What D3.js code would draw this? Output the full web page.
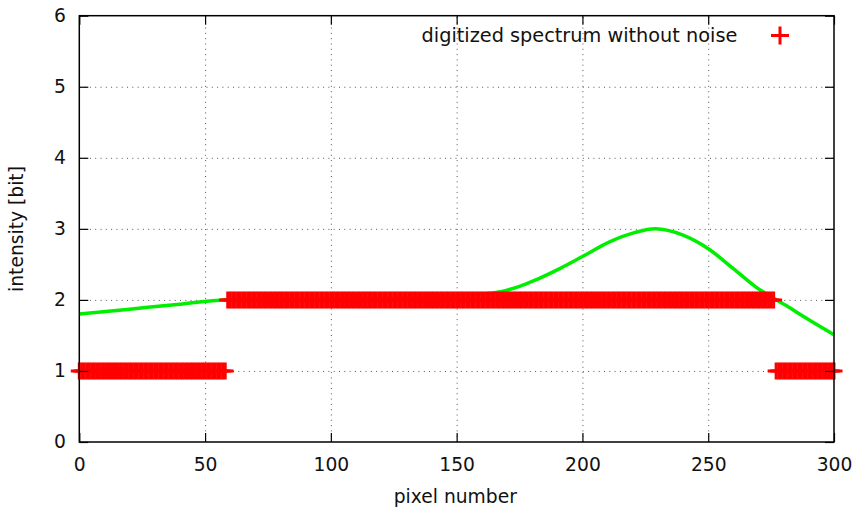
<!DOCTYPE html>
<html>
<head>
<meta charset="utf-8">
<script src="https://cdn.jsdelivr.net/npm/d3@7"></script>
<style>
  body { margin: 0; background: #fff; }
  svg { display: block; font-family: "DejaVu Sans", sans-serif; }
  .grid line { stroke: #555; stroke-width: 1; stroke-dasharray: 1,4.3; }
  .grid .domain { display: none; }
  .axis .domain { display: none; }
  .axis line { stroke: #000; stroke-width: 1.2; }
  .axis text { font-size: 18.7px; fill: #111; font-family: "DejaVu Sans", sans-serif; }
</style>
</head>
<body>
<script>
// tick values
var xTicks = [0, 50, 100, 150, 200, 250, 300];
var yTicks = [0, 1, 2, 3, 4, 5, 6];

var digitized = [
  1,1,1,1,1,1,1,1,1,1, // 0
  1,1,1,1,1,1,1,1,1,1, // 10
  1,1,1,1,1,1,1,1,1,1, // 20
  1,1,1,1,1,1,1,1,1,1, // 30
  1,1,1,1,1,1,1,1,1,1, // 40
  1,1,1,1,1,1,1,1,1,2, // 50
  2,2,2,2,2,2,2,2,2,2, // 60
  2,2,2,2,2,2,2,2,2,2, // 70
  2,2,2,2,2,2,2,2,2,2, // 80
  2,2,2,2,2,2,2,2,2,2, // 90
  2,2,2,2,2,2,2,2,2,2, // 100
  2,2,2,2,2,2,2,2,2,2, // 110
  2,2,2,2,2,2,2,2,2,2, // 120
  2,2,2,2,2,2,2,2,2,2, // 130
  2,2,2,2,2,2,2,2,2,2, // 140
  2,2,2,2,2,2,2,2,2,2, // 150
  2,2,2,2,2,2,2,2,2,2, // 160
  2,2,2,2,2,2,2,2,2,2, // 170
  2,2,2,2,2,2,2,2,2,2, // 180
  2,2,2,2,2,2,2,2,2,2, // 190
  2,2,2,2,2,2,2,2,2,2, // 200
  2,2,2,2,2,2,2,2,2,2, // 210
  2,2,2,2,2,2,2,2,2,2, // 220
  2,2,2,2,2,2,2,2,2,2, // 230
  2,2,2,2,2,2,2,2,2,2, // 240
  2,2,2,2,2,2,2,2,2,2, // 250
  2,2,2,2,2,2,2,2,2,2, // 260
  2,2,2,2,2,2,2,1,1,1, // 270
  1,1,1,1,1,1,1,1,1,1, // 280
  1,1,1,1,1,1,1,1,1,1, // 290
  1                    // 300
];

// original (undigitized) spectrum
var spectrumX = [0, 20, 40, 58, 80, 100, 120, 140, 155, 168, 175, 182, 191, 200, 211, 221, 229, 240, 250, 260, 269, 281, 290, 300];
var spectrumY = [1.8, 1.87, 1.94, 2.0, 2.0, 2.01, 2.02, 2.04, 2.07, 2.12, 2.19, 2.29, 2.44, 2.61, 2.82, 2.95, 3.0, 2.91, 2.72, 2.44, 2.18, 1.92, 1.72, 1.51];

var legendLabel = "digitized spectrum without noise";

var W = 857, H = 508;

// plot area
var margin = {top: 15.7, right: 23, bottom: 66, left: 79.3};
var plotW = W - margin.left - margin.right,
    plotH = H - margin.top - margin.bottom;

var x = d3.scaleLinear().domain([0, 300]).range([margin.left, margin.left + plotW]);
var y = d3.scaleLinear().domain([0, 6]).range([margin.top + plotH, margin.top]);

var svg = d3.select("body").append("svg")
    .attr("width", W)
    .attr("height", H);

// dotted grid
svg.append("g")
    .attr("class", "grid")
    .attr("transform", "translate(0," + y(0) + ")")
    .call(d3.axisBottom(x).tickValues(xTicks.slice(1, -1)).tickSize(-plotH).tickFormat(""));
svg.append("g")
    .attr("class", "grid")
    .attr("transform", "translate(" + x(0) + ",0)")
    .call(d3.axisLeft(y).tickValues(yTicks.slice(1, -1)).tickSize(-plotW).tickFormat(""));

// green line
var line = d3.line()
    .x(function (d, i) { return x(spectrumX[i]); })
    .y(function (d) { return y(d); })
    .curve(d3.curveMonotoneX);

svg.append("path")
    .attr("d", line(spectrumY))
    .attr("fill", "none")
    .attr("stroke", "#00ee00")
    .attr("stroke-width", 3.5);

// red crosses
function cross(s) {
    return "M" + (-s) + ",0H" + s + "M0," + (-s) + "V" + s;
}

svg.append("g")
    .selectAll("path")
    .data(digitized)
    .join("path")
    .attr("transform", function (d, i) { return "translate(" + x(i) + "," + y(d) + ")"; })
    .attr("d", cross(8.5))
    .attr("stroke", "#ff0000")
    .attr("stroke-width", 3)
    .attr("fill", "none");

// axes with inward ticks, mirrored on all sides
svg.append("g")
    .attr("class", "axis")
    .attr("transform", "translate(0," + y(0) + ")")
    .call(d3.axisBottom(x).tickValues(xTicks).tickSizeInner(-9).tickSizeOuter(0).tickPadding(15.4).tickFormat(d3.format("d")));
svg.append("g")
    .attr("class", "axis")
    .attr("transform", "translate(0," + y(6) + ")")
    .call(d3.axisTop(x).tickValues(xTicks).tickSizeInner(-9).tickSizeOuter(0).tickFormat(""));
svg.append("g")
    .attr("class", "axis")
    .attr("transform", "translate(" + x(0) + ",0)")
    .call(d3.axisLeft(y).tickValues(yTicks).tickSizeInner(-9).tickSizeOuter(0).tickPadding(13.3).tickFormat(d3.format("d")));
svg.append("g")
    .attr("class", "axis")
    .attr("transform", "translate(" + x(300) + ",0)")
    .call(d3.axisRight(y).tickValues(yTicks).tickSizeInner(-9).tickSizeOuter(0).tickFormat(""));

// border
svg.append("rect")
    .attr("x", x(0))
    .attr("y", y(6))
    .attr("width", plotW)
    .attr("height", plotH)
    .attr("fill", "none")
    .attr("stroke", "#000")
    .attr("stroke-width", 1.5);

// axis labels
svg.append("text")
    .attr("x", 455.3)
    .attr("y", 503.3)
    .attr("text-anchor", "middle")
    .attr("font-size", "18.7px")
    .attr("fill", "#111")
    .text("pixel number");

svg.append("text")
    .attr("transform", "translate(23,229) rotate(-90)")
    .attr("text-anchor", "middle")
    .attr("font-size", "18.7px")
    .attr("fill", "#111")
    .text("intensity [bit]");

// legend
svg.append("text")
    .attr("x", 737.3)
    .attr("y", 42)
    .attr("text-anchor", "end")
    .attr("font-size", "19.3px")
    .attr("fill", "#111")
    .text(legendLabel);

svg.append("path")
    .attr("transform", "translate(780,35.5)")
    .attr("d", cross(9))
    .attr("stroke", "#ff0000")
    .attr("stroke-width", 3)
    .attr("fill", "none");
</script>
</body>
</html>
